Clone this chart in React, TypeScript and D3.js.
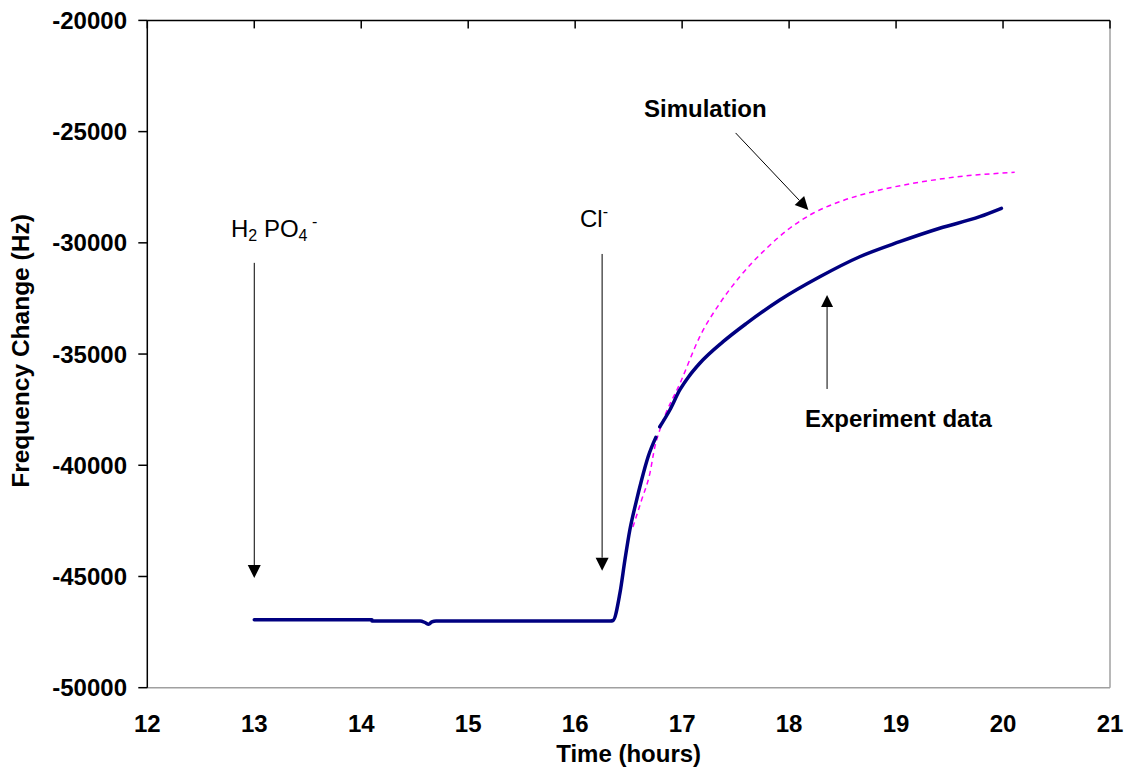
import React from 'react';
import * as d3 from 'd3';

// Axis ticks
const xTicks = [12, 13, 14, 15, 16, 17, 18, 19, 20, 21];
const yTicks = [-20000, -25000, -30000, -35000, -40000, -45000, -50000];

// Measured QCM response (hours, Hz); null marks a gap in the record
const expTime = [
  13.0, 14.1, 14.1, 14.55, 14.6, 14.63, 14.66, 14.7, 16.33, 16.354, 16.418, 16.465, 16.511,
  16.567, 16.621, 16.682, 16.754, 16.77, 16.791, 16.885, 16.978, 17.056, 17.165, 17.383,
  17.602, 17.913, 18.287, 18.66, 19.034, 19.408, 19.782, 19.985,
];
const expFreq: (number | null)[] = [
  -46950, -46950, -47000, -47000, -47080, -47150, -47040, -47000, -47000, -46980, -45760,
  -44260, -42910, -41710, -40660, -39615, -38745, null, -38270, -37515, -36615, -36050,
  -35415, -34445, -33620, -32570, -31525, -30625, -29950, -29345, -28825, -28450,
];

// Model prediction (hours, Hz)
const simTime = [
  16.54, 16.621, 16.699, 16.745, 16.791, 16.994, 17.165, 17.352, 17.539, 17.789, 18.006,
  18.224, 18.474, 18.785, 19.159, 19.533, 20.109,
];
const simFreq = [
  -42780, -41560, -40350, -39170, -38415, -36165, -34220, -32720, -31525, -30245, -29345,
  -28670, -28150, -27700, -27325, -27055, -26830,
];

const W = 1126;
const H = 769;
const FONT = "'Liberation Sans', Arial, sans-serif";

type Arrow = { t1: number; v1: number; t2: number; v2: number; head: number };
const arrows: Arrow[] = [
  { t1: 13, v1: -30900, t2: 13, v2: -45070, head: 13 },
  { t1: 16.252, v1: -30500, t2: 16.252, v2: -44740, head: 13 },
  { t1: 17.5, v1: -25060, t2: 18.18, v2: -28520, head: 13 },
  { t1: 18.355, v1: -36570, t2: 18.355, v2: -32345, head: 12 },
];

export default function App() {
  const x = d3.scaleLinear().domain([12, 21]).range([147.3, 1110]);
  const y = d3.scaleLinear().domain([-50000, -20000]).range([687.7, 20.4]);
  const left = x(12);
  const right = x(21);
  const top = y(-20000);
  const bottom = y(-50000);

  const expPts = expTime.map((t, i) => [t, expFreq[i]] as [number, number | null]);
  const simPts = simTime.map((t, i) => [t, simFreq[i]] as [number, number]);

  const expLine = d3
    .line<[number, number | null]>()
    .defined((d) => d[1] !== null)
    .curve(d3.curveMonotoneX)
    .x((d) => x(d[0]))
    .y((d) => y(d[1] as number));
  const simLine = d3
    .line<[number, number]>()
    .curve(d3.curveMonotoneX)
    .x((d) => x(d[0]))
    .y((d) => y(d[1]));

  const arrowEls = arrows.map((a, i) => {
    const x1 = x(a.t1), y1 = y(a.v1), x2 = x(a.t2), y2 = y(a.v2);
    const ang = Math.atan2(y2 - y1, x2 - x1);
    const ux = Math.cos(ang), uy = Math.sin(ang);
    const bx = x2 - ux * a.head, by = y2 - uy * a.head;
    const hw = a.head / 2;
    const pts = [
      [x2, y2],
      [bx - uy * hw, by + ux * hw],
      [bx + uy * hw, by - ux * hw],
    ];
    return (
      <g key={i}>
        <line x1={x1} y1={y1} x2={bx} y2={by} stroke="#000" strokeWidth={1} />
        <polygon points={pts.map((p) => p.join(',')).join(' ')} fill="#000" />
      </g>
    );
  });

  return (
    <svg
      width={W}
      height={H}
      style={{ position: 'absolute', left: 0, top: 0, background: '#fff' }}
      fontFamily={FONT}
    >
      <rect x={0} y={0} width={W} height={H} fill="#fff" />

      {/* plot frame: gray right and bottom edges */}
      <line x1={right} y1={top} x2={right} y2={bottom} stroke="#a0a0a0" strokeWidth={1.5} />
      <line x1={left} y1={bottom} x2={right} y2={bottom} stroke="#a0a0a0" strokeWidth={1.5} />

      {/* value axis on the left */}
      <line x1={left} y1={top} x2={left} y2={bottom} stroke="#000" strokeWidth={1.5} />
      {yTicks.map((v) => (
        <g key={v}>
          <line x1={left - 9} x2={left} y1={y(v)} y2={y(v)} stroke="#000" strokeWidth={1.5} />
          <text
            x={127}
            y={y(v)}
            dy="0.36em"
            textAnchor="end"
            fontSize={24}
            fontWeight="bold"
          >
            {v}
          </text>
        </g>
      ))}

      {/* time axis crosses at the top; labels sit below the plot */}
      <line x1={left} y1={top} x2={right} y2={top} stroke="#000" strokeWidth={1.5} />
      {xTicks.map((t) => (
        <g key={t}>
          <line x1={x(t)} x2={x(t)} y1={top} y2={top + 8} stroke="#000" strokeWidth={1.5} />
          <text x={x(t)} y={732} textAnchor="middle" fontSize={24} fontWeight="bold">
            {t}
          </text>
        </g>
      ))}

      <text x={(left + right) / 2} y={762} textAnchor="middle" fontSize={24} fontWeight="bold">
        Time (hours)
      </text>
      <text
        transform="translate(29,351) rotate(-90)"
        textAnchor="middle"
        fontSize={24.5}
        fontWeight="bold"
      >
        Frequency Change (Hz)
      </text>

      {/* series */}
      <path
        d={simLine(simPts) || ''}
        fill="none"
        stroke="#ff00ff"
        strokeWidth={1.5}
        strokeDasharray="5 4"
      />
      <path
        d={expLine(expPts) || ''}
        fill="none"
        stroke="#000080"
        strokeWidth={3.5}
        strokeLinejoin="round"
        strokeLinecap="round"
      />

      {/* annotations */}
      {arrowEls}
      <text x={231} y={237} fontSize={24}>
        H
        <tspan fontSize={16} dy={4}>2</tspan>
        <tspan dy={-4}> PO</tspan>
        <tspan fontSize={16} dy={4}>4</tspan>
        <tspan fontSize={16} dy={-14}> -</tspan>
      </text>
      <text x={580} y={227} fontSize={24}>
        Cl
        <tspan fontSize={16} dy={-10}>-</tspan>
      </text>
      <text x={644} y={117} fontSize={24} fontWeight="bold">
        Simulation
      </text>
      <text x={805} y={427} fontSize={24} fontWeight="bold">
        Experiment data
      </text>
    </svg>
  );
}
